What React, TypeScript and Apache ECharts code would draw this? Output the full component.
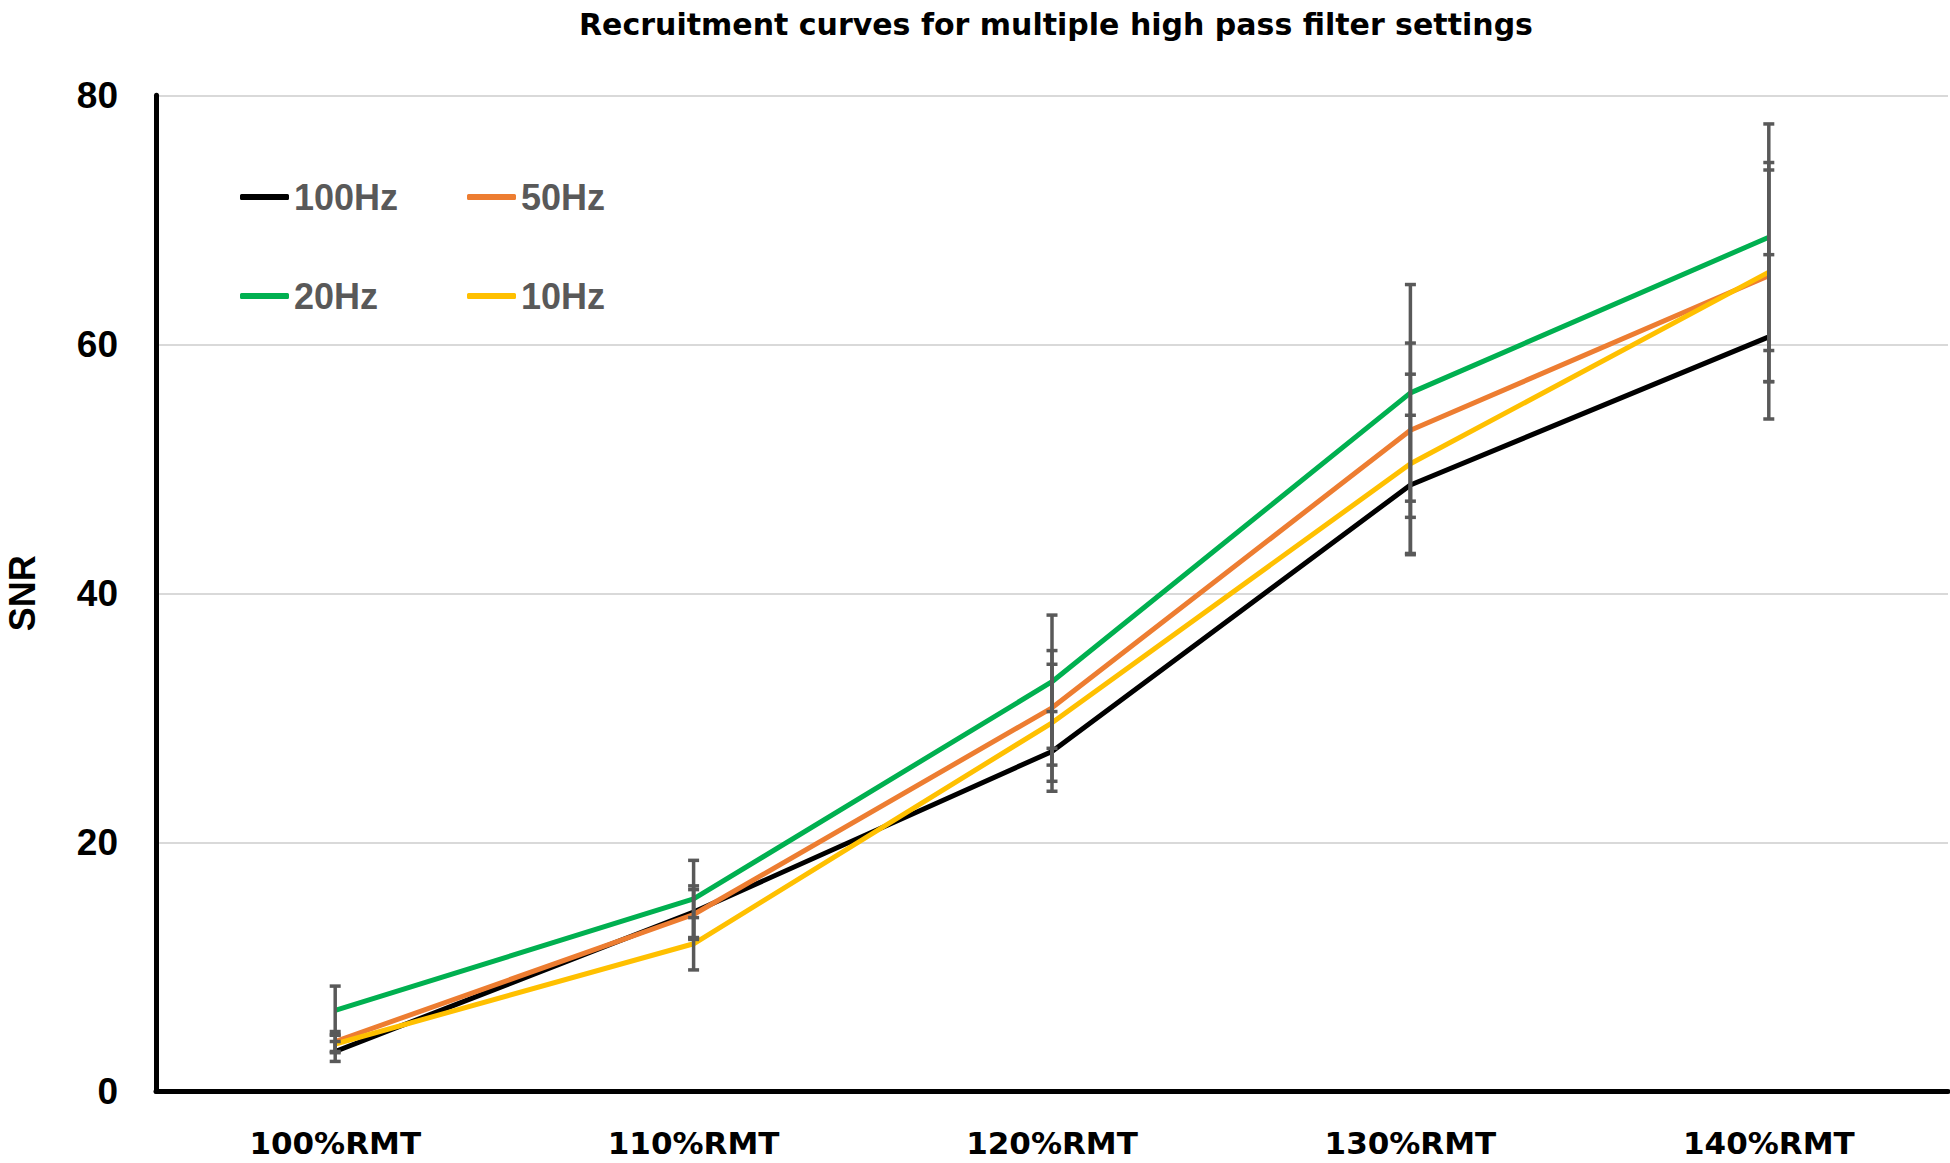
import React, { useEffect, useRef } from "react";
import * as echarts from "echarts";

const TITLE = "Recruitment curves for multiple high pass filter settings";
const categories = ["100%RMT", "110%RMT", "120%RMT", "130%RMT", "140%RMT"];
const yTicks = [0, 20, 40, 60, 80];

const seriesNames = ["100Hz", "50Hz", "20Hz", "10Hz"];
const seriesColors = ["#000000", "#ED7D31", "#00B050", "#FFC000"];

const hz100 = [3.2, 14.4, 27.3, 48.7, 60.6];
const err100 = [0.8, 2.1, 3.2, 5.6, 6.6];
const hz50 = [4.0, 14.2, 30.8, 53.1, 65.5];
const err50 = [0.8, 2.0, 4.6, 7.0, 8.5];
const hz20 = [6.5, 15.45, 32.9, 56.1, 68.6];
const err20 = [1.95, 3.1, 5.35, 8.7, 9.1];
const hz10 = [3.8, 11.85, 29.6, 50.4, 65.8];
const err10 = [0.7, 2.1, 4.7, 7.2, 8.8];

const values = [hz100, hz50, hz20, hz10];
const errors = [err100, err50, err20, err10];

export default function App() {
  const ref = useRef<HTMLDivElement>(null);

  useEffect(() => {
    if (!ref.current) return;
    const chart = echarts.init(ref.current, undefined, { renderer: "svg" });

    const lineSeries = seriesNames.map((name, i) => ({
      name,
      type: "line",
      data: values[i],
      symbol: "none",
      smooth: false,
      z: 2,
      lineStyle: { color: seriesColors[i], width: 5 },
      itemStyle: { color: seriesColors[i] },
    }));

    const errSeries = seriesNames.map((name, i) => ({
      name: name + "-err",
      type: "custom",
      z: 3,
      silent: true,
      data: values[i].map((v, k) => [k, v - errors[i][k], v + errors[i][k]]),
      encode: { x: 0, y: [1, 2] },
      renderItem: (params: any, api: any) => {
        const xi = api.value(0);
        const lo = api.coord([xi, api.value(1)]);
        const hi = api.coord([xi, api.value(2)]);
        const st = { stroke: "#595959", lineWidth: 3.5 };
        const hw = 5.5;
        return {
          type: "group",
          children: [
            { type: "line", shape: { x1: lo[0], y1: lo[1], x2: hi[0], y2: hi[1] }, style: st },
            { type: "line", shape: { x1: lo[0] - hw, y1: lo[1], x2: lo[0] + hw, y2: lo[1] }, style: st },
            { type: "line", shape: { x1: hi[0] - hw, y1: hi[1], x2: hi[0] + hw, y2: hi[1] }, style: st },
          ],
        };
      },
    }));

    const legendText = {
      fontFamily: "Liberation Sans",
      fontWeight: "bold",
      fontSize: 36,
      color: "#595959",
      width: 150,
      lineHeight: 36,
    };

    chart.setOption({
      animation: false,
      backgroundColor: "#ffffff",
      graphic: [
        {
          type: "text",
          x: 1056,
          y: 24,
          style: {
            text: TITLE,
            textAlign: "center",
            textVerticalAlign: "middle",
            fontFamily: "DejaVu Sans",
            fontWeight: "bold",
            fontSize: 30,
            fill: "#000000",
          },
        },
      ],
      legend: [
        {
          data: [seriesNames[0], seriesNames[1]],
          left: 240,
          top: 179,
          padding: 0,
          orient: "horizontal",
          icon: "roundRect",
          itemWidth: 49,
          itemHeight: 6,
          itemGap: 23,
          selectedMode: false,
          textStyle: legendText,
        },
        {
          data: [seriesNames[2], seriesNames[3]],
          left: 240,
          top: 278,
          padding: 0,
          orient: "horizontal",
          icon: "roundRect",
          itemWidth: 49,
          itemHeight: 6,
          itemGap: 23,
          selectedMode: false,
          textStyle: legendText,
        },
      ],
      grid: {
        left: 156,
        right: 2,
        top: 95.3,
        bottom: 71.7,
        containLabel: false,
        outerBoundsMode: "none",
      },
      xAxis: {
        type: "category",
        data: categories,
        boundaryGap: true,
        axisLine: { show: true, lineStyle: { color: "#000000", width: 5 } },
        axisTick: { show: false },
        axisLabel: {
          margin: 36,
          fontFamily: "DejaVu Sans",
          fontWeight: "bold",
          fontSize: 31,
          color: "#000000",
        },
        splitLine: { show: false },
      },
      yAxis: {
        type: "value",
        min: yTicks[0],
        max: yTicks[yTicks.length - 1],
        interval: 20,
        name: "SNR",
        nameLocation: "middle",
        nameRotate: 90,
        nameGap: 116,
        nameTextStyle: {
          fontFamily: "Liberation Sans",
          fontWeight: "bold",
          fontSize: 36,
          color: "#000000",
        },
        axisLine: { show: true, lineStyle: { color: "#000000", width: 5 } },
        axisTick: { show: false },
        axisLabel: {
          margin: 38,
          fontFamily: "Liberation Sans",
          fontWeight: "bold",
          fontSize: 37,
          color: "#000000",
        },
        splitLine: { show: true, lineStyle: { color: "#D9D9D9", width: 2 } },
      },
      series: [...lineSeries, ...errSeries],
    });

    return () => chart.dispose();
  }, []);

  return (
    <div
      ref={ref}
      style={{ position: "fixed", left: 0, top: 0, width: 1950, height: 1163, background: "#fff" }}
    />
  );
}
